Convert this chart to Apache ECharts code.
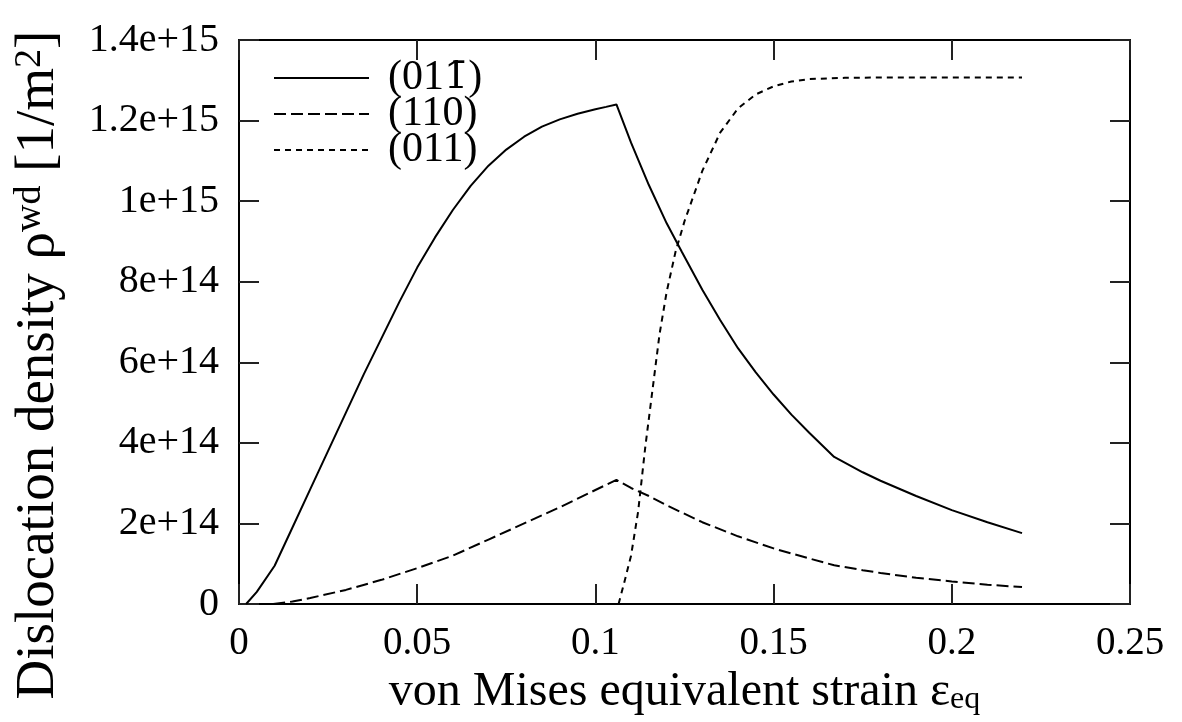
<!DOCTYPE html>
<html>
<head>
<meta charset="utf-8">
<script src="https://cdn.jsdelivr.net/npm/echarts@6/dist/echarts.min.js"></script>
<style>
html,body{margin:0;padding:0;background:#fff;}
#chart{width:1182px;height:722px;}
</style>
</head>
<body>
<div id="chart"></div>
<script>
// x tick labels and y tick labels (y values in units of 1e14 1/m^2)
const xTickLabels = ['0', '0.05', '0.1', '0.15', '0.2', '0.25'];
const yTickLabels = ['0', '2e+14', '4e+14', '6e+14', '8e+14', '1e+15', '1.2e+15', '1.4e+15'];

const seriesNames = ['(01-1)', '(110)', '(011)'];
const legendTexts = ['(01{ov|1\u0304})', '(110)', '(011)'];

// (01-1) solid
const strainA = [0.002,0.005,0.01,0.015,0.02,0.025,0.03,0.035,0.04,0.045,0.05,0.055,0.06,0.065,0.07,0.075,0.08,0.085,0.09,0.095,0.1,0.103,0.1059,0.11,0.115,0.12,0.1242,0.13,0.135,0.14,0.145,0.15,0.155,0.16,0.167,0.175,0.18,0.19,0.2,0.21,0.2197];
const rhoA    = [0,0.3,0.95,1.9,2.85,3.8,4.75,5.7,6.6,7.5,8.35,9.1,9.78,10.38,10.88,11.28,11.6,11.85,12.03,12.17,12.28,12.34,12.4,11.45,10.4,9.45,8.75,7.8,7.05,6.35,5.75,5.2,4.7,4.25,3.65,3.27,3.06,2.68,2.33,2.03,1.76];

// (110) dashed
const strainB = [0.0096,0.015,0.02,0.03,0.04,0.05,0.06,0.07,0.08,0.09,0.1,0.1059,0.11,0.115,0.12,0.13,0.14,0.15,0.16,0.167,0.175,0.18,0.19,0.2,0.21,0.2197];
const rhoB    = [0,0.06,0.15,0.35,0.6,0.89,1.2,1.6,2.0,2.4,2.83,3.08,2.88,2.68,2.45,2.03,1.68,1.38,1.13,0.96,0.84,0.77,0.65,0.56,0.48,0.42];

// (011) dotted
const strainC = [0.1065,0.108,0.11,0.112,0.114,0.116,0.118,0.12,0.1225,0.125,0.13,0.135,0.14,0.145,0.15,0.155,0.16,0.17,0.18,0.19,0.2,0.21,0.2197];
const rhoC    = [0,0.5,1.2,2.3,3.9,5.3,6.7,7.75,8.75,9.5,10.75,11.7,12.3,12.65,12.85,12.97,13.03,13.06,13.07,13.07,13.07,13.07,13.07];

function pairs(xs, ys){ return xs.map((x,i)=>[x, ys[i]]); }

const FONT = 'Liberation Serif';
const chart = echarts.init(document.getElementById('chart'), null, {renderer:'canvas'});

const axisLine = {show:true, onZero:false, lineStyle:{color:'#000', width:2}};
const axisTick = {show:true, inside:true, length:20, lineStyle:{color:'#222', width:2}};

chart.setOption({
  backgroundColor:'#fff',
  animation:false,
  grid:{left:239, right:52, top:40, bottom:118, containLabel:false},
  legend:{
    left:268, top:52, orient:'vertical', itemGap:-6,
    itemWidth:95, itemHeight:14,
    data: seriesNames,
    formatter:(name)=>legendTexts[seriesNames.indexOf(name)],
    textStyle:{fontFamily:FONT, fontSize:42, color:'#000', padding:[0,0,0,14],
      rich:{ov:{fontFamily:'DejaVu Serif', fontSize:38, color:'#000'}}},
    itemStyle:{opacity:0},
    lineStyle:{type:'inherit', width:2}
  },
  xAxis:[{
    type:'value', min:0, max:0.25, interval:0.05, position:'bottom',
    axisLine:axisLine, axisTick:axisTick,
    splitLine:{show:false},
    axisLabel:{fontFamily:FONT, fontSize:39, color:'#000', margin:20,
      formatter:(v)=>xTickLabels[Math.round(v/0.05)]},
    name:'von Mises equivalent strain \u03b5{sub|eq}',
    nameLocation:'middle', nameGap:60,
    nameTextStyle:{fontFamily:FONT, fontSize:48, color:'#000',
      rich:{sub:{fontFamily:FONT, fontSize:32, color:'#000', verticalAlign:'bottom', padding:[16,0,0,0]}}}
  },{
    type:'value', min:0, max:0.25, interval:0.05, position:'top',
    axisLine:axisLine, axisTick:axisTick,
    axisLabel:{show:false}, splitLine:{show:false}
  }],
  yAxis:[{
    type:'value', min:0, max:14, interval:2, position:'left',
    axisLine:axisLine, axisTick:axisTick,
    splitLine:{show:false},
    axisLabel:{fontFamily:FONT, fontSize:40, color:'#000', margin:20,
      formatter:(v)=>yTickLabels[Math.round(v/2)]},
    name:'Dislocation density \u03c1{sup|wd} [1/m{sup|2}]',
    nameLocation:'middle', nameRotate:90, nameGap:172,
    nameTextStyle:{fontFamily:FONT, fontSize:55, color:'#000', padding:[0,86,0,0],
      rich:{sup:{fontFamily:FONT, fontSize:38, color:'#000', verticalAlign:'top', padding:[0,0,18,0]}}}
  },{
    type:'value', min:0, max:14, interval:2, position:'right',
    axisLine:axisLine, axisTick:axisTick,
    axisLabel:{show:false}, splitLine:{show:false}
  }],
  series:[
    {name:seriesNames[0], type:'line', xAxisIndex:0, yAxisIndex:0, symbol:'none',
     data:pairs(strainA, rhoA), lineStyle:{color:'#000', width:2, type:'solid'}, itemStyle:{color:'#000'}},
    {name:seriesNames[1], type:'line', xAxisIndex:0, yAxisIndex:0, symbol:'none',
     data:pairs(strainB, rhoB), lineStyle:{color:'#000', width:2, type:[12,5]}, itemStyle:{color:'#000'}},
    {name:seriesNames[2], type:'line', xAxisIndex:0, yAxisIndex:0, symbol:'none',
     data:pairs(strainC, rhoC), lineStyle:{color:'#000', width:2, type:[6,5]}, itemStyle:{color:'#000'}}
  ]
});
</script>
</body>
</html>
